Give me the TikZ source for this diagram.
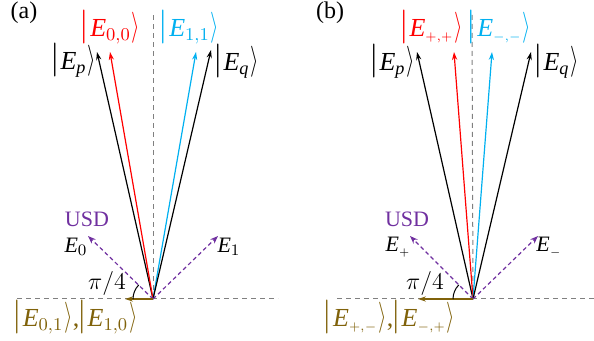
\documentclass[tikz,border=0pt]{standalone}
\usepackage{fontspec}
\usepackage{graphicx}
\setmainfont{Liberation Serif}
\usetikzlibrary{arrows.meta}
\definecolor{myred}{RGB}{255,0,0}
\definecolor{mycyan}{RGB}{0,176,240}
\definecolor{mypurple}{RGB}{112,48,160}
\definecolor{mybrown}{RGB}{128,98,10}
\newcommand{\kglyph}[4]{\raisebox{#1}{\raisebox{\depth}{\resizebox*{#2}{#3}{$#4$}}}}
\newcommand{\kb}{\kern-1pt\kglyph{-3.5pt}{!}{17pt}{|}\kern-1pt}
\newcommand{\ka}{\kglyph{-3pt}{4.2pt}{15.5pt}{\rangle}}
\newcommand{\myket}[1]{\kb\kern1.5pt$#1$\kern0.5pt\ka}
\newcommand{\Ei}{\mathit{E}}
\tikzset{
 vec/.style={line width=0.6pt,-{Stealth[length=4pt,width=2.6pt]}},
 usd/.style={mypurple, dash pattern=on 2pt off 1.5pt, line width=0.6pt, -{Stealth[length=4pt,width=3pt]}},
 axis/.style={gray, dash pattern=on 2.5pt off 2pt, line width=0.5pt},
 ket/.style={font=\fontsize{13}{15}\selectfont, inner sep=0pt},
 lab/.style={font=\fontsize{11}{13}\selectfont, inner sep=0pt},
 panel/.style={font=\fontsize{12}{14}\selectfont, inner sep=0pt},
}
\begin{document}
\begin{tikzpicture}[x=0.5pt,y=-0.5pt]
\useasboundingbox (0,0) rectangle (594,341);
% ---------- panel (a)
\coordinate (Oa) at (153,299);
\coordinate (Ha1) at (17,299); \coordinate (Ha2) at (278,299);
\coordinate (Va) at (153,15);
\coordinate (Pa) at (97,52); \coordinate (Ra) at (110,52);
\coordinate (Ca) at (196,52); \coordinate (Qa) at (211,50);
\coordinate (Ua) at (88,236); \coordinate (Wa) at (218,236);
\coordinate (Ba) at (125,299);
\draw[axis] (Ha1) -- (Ha2);
\draw[axis] (Oa) -- (Va);
\draw[vec] (Oa) -- (Pa);
\draw[vec,myred] (Oa) -- (Ra);
\draw[vec,mycyan] (Oa) -- (Ca);
\draw[vec] (Oa) -- (Qa);
\draw[usd] (Oa) -- (Ua);
\draw[usd] (Oa) -- (Wa);
\draw[vec,mybrown] (Oa) -- (Ba);
\draw[line width=0.5pt] (Oa) ++(180:20) arc[start angle=180,end angle=225,radius=20];
\node[panel] (la) at (24,13) {(a)};
\node[ket] (kPa) at (74,60) {\myket{\Ei_{\mathit{p}}}};
\node[ket,myred] (kRa) at (111,27) {\myket{\Ei_{0{,}0}}};
\node[ket,mycyan] (kCa) at (190,27) {\myket{\Ei_{1{,}1}}};
\node[ket] (kQa) at (237,61) {\myket{\Ei_{\mathit{q}}}};
\node[lab,mypurple] (usda) at (87,219) {USD};
\node[lab] (e0) at (76,247) {$\Ei_{0}$};
\node[lab] (e1) at (229,247) {$\Ei_{1}$};
\node[ket,font=\fontsize{12}{14}\selectfont] (pia) at (107,284) {$\pi/4$};
\node[ket,mybrown] (ba) at (76,317) {\myket{\Ei_{0{,}1}},\myket{\Ei_{1{,}0}}};
% ---------- panel (b)
\coordinate (Ob) at (473,299);
\coordinate (Hb1) at (337,299); \coordinate (Hb2) at (594,299);
\coordinate (Vb) at (472,15);
\coordinate (Pb) at (417,52); \coordinate (Rb) at (454,52);
\coordinate (Cb) at (492,52); \coordinate (Qb) at (531,52);
\coordinate (Ub) at (410,236); \coordinate (Wb) at (538,236);
\coordinate (Bb) at (418,299);
\draw[axis] (Hb1) -- (Hb2);
\draw[axis] (Ob) -- (Vb);
\draw[vec] (Ob) -- (Pb);
\draw[vec,myred] (Ob) -- (Rb);
\draw[vec,mycyan] (Ob) -- (Cb);
\draw[vec] (Ob) -- (Qb);
\draw[usd] (Ob) -- (Ub);
\draw[usd] (Ob) -- (Wb);
\draw[vec,mybrown] (Ob) -- (Bb);
\draw[line width=0.5pt] (Ob) ++(180:20) arc[start angle=180,end angle=225,radius=20];
\node[panel] (lb) at (330,13) {(b)};
\node[ket] (kPb) at (393,61) {\myket{\Ei_{\mathit{p}}}};
\node[ket,myred] (kRb) at (432,27) {\myket{\Ei_{\scriptscriptstyle +,+}}};
\node[ket,mycyan] (kCb) at (500,27) {\myket{\Ei_{\scriptscriptstyle -,-}}};
\node[ket] (kQb) at (557,61) {\myket{\Ei_{\mathit{q}}}};
\node[lab,mypurple] (usdb) at (407,219) {USD};
\node[lab] (ep) at (398,247) {$\Ei_{\scriptscriptstyle +}$};
\node[lab] (em) at (549,247) {$\Ei_{\scriptscriptstyle -}$};
\node[ket,font=\fontsize{12}{14}\selectfont] (pib) at (425,284) {$\pi/4$};
\node[ket,mybrown] (bb) at (390,317) {\myket{\Ei_{\scriptscriptstyle +,-}},\myket{\Ei_{\scriptscriptstyle -,+}}};
\end{tikzpicture}
\end{document}
